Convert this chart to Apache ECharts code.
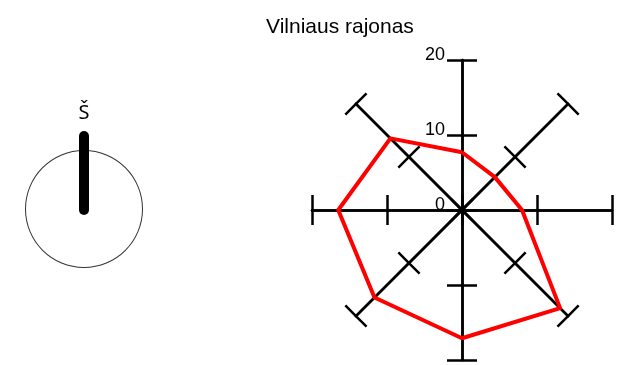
<!DOCTYPE html>
<html>
<head>
<meta charset="utf-8">
<script src="https://cdn.jsdelivr.net/npm/echarts@6/dist/echarts.min.js"></script>
<style>
  html, body { margin: 0; padding: 0; background: #fff; }
  #chart { width: 629px; height: 365px; }
</style>
</head>
<body>
<div id="chart"></div>
<script>
// wind directions, clockwise from north
const directions = ["Š", "ŠR", "R", "PR", "P", "PV", "V", "ŠV"];
const values = [7.7, 6.2, 8.0, 18.5, 17.1, 16.5, 16.5, 13.5];
const axisMax = 20;
const axisStep = 10;
const titleText = "Vilniaus rajonas";
const northLabel = "Š";

// radar goes counter-clockwise, so reverse everything after north
const order = [0, 7, 6, 5, 4, 3, 2, 1];
const indicator = order.map((i, k) => {
  let ind = { name: directions[i], max: axisMax, min: 0 };
  if (k === 0) ind.axisLabel = { show: true };
  return ind;
});
const radarValues = order.map((i) => values[i]);

const chart = echarts.init(document.getElementById("chart"));

const radarBase = {
  center: [462, 210],
  radius: 150,
  startAngle: 90,
  splitNumber: axisMax / axisStep,
  axisName: { show: false },
  splitLine: { show: false },
  splitArea: { show: false },
  axisLine: { lineStyle: { color: "#000", width: 2.5 } },
};

const option = {
  animation: false,
  title: {
    text: titleText,
    left: 261,
    top: 12,
    textStyle: { fontFamily: "Liberation Sans", fontSize: 21, fontWeight: "normal", color: "#000" },
  },
  radar: [
    Object.assign({}, radarBase, {
      indicator: indicator,
      axisTick: { show: true, length: 15, lineStyle: { color: "#000", width: 2.5 } },
      axisLabel: {
        show: false,
        color: "#000",
        fontFamily: "Liberation Sans",
        fontSize: 18,
        margin: 17,
        verticalAlign: "bottom",
        lineHeight: 10,
      },
    }),
    // second copy only for the ticks on the other side of each spoke
    Object.assign({}, radarBase, {
      indicator: indicator.map((d) => ({ name: d.name, max: d.max, min: d.min })),
      axisTick: { show: true, length: -15, lineStyle: { color: "#000", width: 2.5 } },
      axisLabel: { show: false },
    }),
  ],
  series: [
    {
      type: "radar",
      radarIndex: 0,
      symbol: "none",
      lineStyle: { color: "#ff0000", width: 4 },
      data: [{ name: titleText, value: radarValues }],
    },
    {
      type: "gauge",
      center: [84, 209],
      radius: 59,
      min: 0,
      max: 360,
      startAngle: 90,
      endAngle: -270,
      splitNumber: 4,
      axisLine: { lineStyle: { width: 1, color: [[1, "#333"]] } },
      splitLine: { show: false, length: 0 },
      axisTick: { show: false },
      axisLabel: { show: false },
      pointer: {
        icon: "path://M0,5A5,5 0 0 1 10,5L10,79A5,5 0 0 1 0,79Z",
        width: 10,
        length: 84,
        offsetCenter: [0, 6],
        itemStyle: { color: "#000" },
      },
      anchor: { show: false },
      title: {
        offsetCenter: [0, -96],
        color: "#000",
        fontFamily: "Noto Sans",
        fontSize: 20,
      },
      detail: { show: false },
      data: [{ value: 0, name: northLabel }],
    },
  ],
};
chart.setOption(option);
</script>
</body>
</html>
